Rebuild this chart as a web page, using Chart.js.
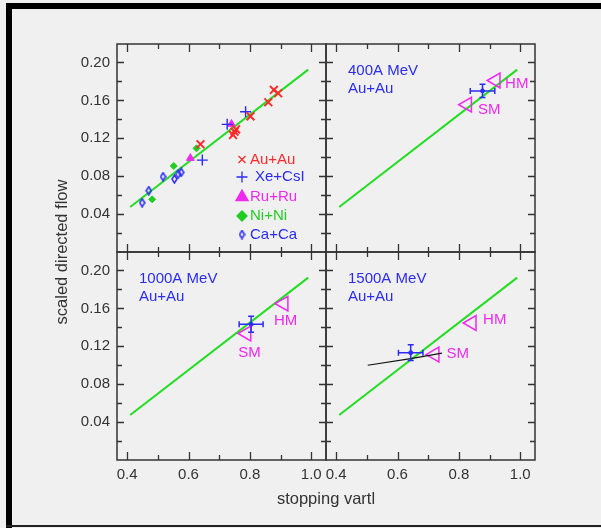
<!DOCTYPE html>
<html>
<head>
<meta charset="utf-8">
<script src="https://cdn.jsdelivr.net/npm/chart.js@4.4.0/dist/chart.umd.min.js"></script>
<style>
  html, body { margin: 0; padding: 0; background: #f0f0f0; }
  #wrap { position: relative; width: 601px; height: 528px; overflow: hidden; background: #f0f0f0; }
  #wrap canvas { position: absolute; left: 0; top: 0; }
  .bar { position: absolute; background: #000; }
</style>
</head>
<body>
<div id="wrap">
  <div class="bar" style="left:6px;top:3px;width:595px;height:6px;"></div>
  <div class="bar" style="left:6px;top:3px;width:6px;height:525px;"></div>
  <div class="bar" style="left:6px;top:525px;width:595px;height:2px;background:#222;"></div>
  <canvas id="tl" width="601" height="528"></canvas>
  <canvas id="tr" width="601" height="528"></canvas>
  <canvas id="bl" width="601" height="528"></canvas>
  <canvas id="br" width="601" height="528"></canvas>
</div>
<script>
// axis ticks
const xTicks = [0.4, 0.6, 0.8, 1.0];
const xMinor = [0.5, 0.7, 0.9];
const yTicks = [0.04, 0.08, 0.12, 0.16, 0.20];
const yMinor = [0.02, 0.06, 0.10, 0.14, 0.18];

// green line (same in every panel)
const fitX = [0.41, 0.99];
const fitY = [0.0475, 0.1925];

// top-left panel systems
const auX = [0.639, 0.745, 0.750, 0.755, 0.802, 0.860, 0.878, 0.892];
const auY = [0.1137, 0.1235, 0.127, 0.1295, 0.1432, 0.158, 0.171, 0.1675];
const xeX = [0.645, 0.726, 0.786];
const xeY = [0.097, 0.1347, 0.148];
const ruX = [0.740, 0.606];
const ruY = [0.135, 0.099];
const niX = [0.626, 0.552, 0.4815];
const niY = [0.1094, 0.0908, 0.0556];
const caX = [0.449, 0.4705, 0.517, 0.554, 0.566, 0.576];
const caY = [0.052, 0.0647, 0.0795, 0.077, 0.082, 0.084];
const legendNames = ['Au+Au', 'Xe+CsI', 'Ru+Ru', 'Ni+Ni', 'Ca+Ca'];

// Au+Au at 400, 1000, 1500A MeV: data with errors, HM and SM
const energies = ['400A MeV', '1000A MeV', '1500A MeV'];
const expX = [0.877, 0.804, 0.643];
const expY = [0.170, 0.1432, 0.1133];
const expDX = [0.040, 0.039, 0.040];
const expDY = [0.007, 0.0085, 0.0083];
const hmX = [0.920, 0.910, 0.842];
const hmY = [0.181, 0.165, 0.1446];
const smX = [0.827, 0.789, 0.721];
const smY = [0.1555, 0.1335, 0.1113];

// black curve in 1500A MeV panel
const curveX = [0.503, 0.643, 0.745];
const curveY = [0.100, 0.107, 0.1127];

const X_MIN = 0.367, X_MAX = 1.048;
const Y_MIN = 0, Y_MAX = 0.2195;

const RED = '#ff2a2a', BLUE = '#2b2bf5', MAG = '#f028f0', GREEN = '#22cc22', LINE_GREEN = '#22dd22';
const FONT = '"Liberation Sans", Arial, sans-serif';
const TXT = '#333';

const pts = (xs, ys) => xs.map((x, i) => ({ x: x, y: ys[i] }));

// narrow open diamond used for Ca+Ca
function narrowDiamond(w, h) {
    const c = document.createElement('canvas');
    c.width = w; c.height = h;
    const g = c.getContext('2d');
    g.strokeStyle = BLUE;
    g.lineWidth = 1.5;
    g.beginPath();
    g.moveTo(w / 2, 1); g.lineTo(w - 1, h / 2); g.lineTo(w / 2, h - 1); g.lineTo(1, h / 2);
    g.closePath();
    g.stroke();
    return c;
}
const caMark = narrowDiamond(7, 10);

function fitLine() {
    return {
        type: 'line', data: pts(fitX, fitY), borderColor: LINE_GREEN,
        borderWidth: 2, pointRadius: 0, order: 5
    };
}

function triangle(x, y) {
    return {
        data: [{ x: x, y: y }], pointStyle: 'triangle', rotation: -90, pointRadius: 8.5,
        borderColor: MAG, borderWidth: 1.5, backgroundColor: 'rgba(0,0,0,0)'
    };
}

function expPoint(i) {
    return {
        data: [{ x: expX[i], y: expY[i] }], pointRadius: 2,
        backgroundColor: BLUE, borderColor: BLUE
    };
}

// frame, inward ticks, error bars, text
const decoPlugin = {
    id: 'deco',
    afterDatasetsDraw(chart, args, opts) {
        const ctx = chart.ctx;
        const a = chart.chartArea;
        const xs = chart.scales.x, ys = chart.scales.y;
        ctx.save();
        ctx.strokeStyle = TXT;
        ctx.lineWidth = 1.5;
        ctx.strokeRect(a.left, a.top, a.right - a.left, a.bottom - a.top);
        ctx.lineWidth = 1.3;
        ctx.beginPath();
        xTicks.concat(xMinor).forEach(v => {
            const px = Math.round(xs.getPixelForValue(v)) + 0.5;
            const len = xTicks.includes(v) ? 8 : 5;
            ctx.moveTo(px, a.bottom); ctx.lineTo(px, a.bottom - len);
            ctx.moveTo(px, a.top); ctx.lineTo(px, a.top + len);
        });
        yTicks.concat(yMinor).forEach(v => {
            const py = Math.round(ys.getPixelForValue(v)) + 0.5;
            const len = yTicks.includes(v) ? 7 : 5;
            ctx.moveTo(a.left, py); ctx.lineTo(a.left + len, py);
            ctx.moveTo(a.right, py); ctx.lineTo(a.right - len, py);
        });
        ctx.stroke();

        // error bars
        if (opts.err !== undefined) {
            const i = opts.err;
            const cx = xs.getPixelForValue(expX[i]), cy = ys.getPixelForValue(expY[i]);
            const x1 = xs.getPixelForValue(expX[i] - expDX[i]), x2 = xs.getPixelForValue(expX[i] + expDX[i]);
            const y1 = ys.getPixelForValue(expY[i] + expDY[i]), y2 = ys.getPixelForValue(expY[i] - expDY[i]);
            ctx.strokeStyle = BLUE;
            ctx.lineWidth = 1.5;
            ctx.beginPath();
            ctx.moveTo(x1, cy); ctx.lineTo(x2, cy);
            ctx.moveTo(x1, cy - 3); ctx.lineTo(x1, cy + 3);
            ctx.moveTo(x2, cy - 3); ctx.lineTo(x2, cy + 3);
            ctx.moveTo(cx, y1); ctx.lineTo(cx, y2);
            ctx.moveTo(cx - 3, y1); ctx.lineTo(cx + 3, y1);
            ctx.moveTo(cx - 3, y2); ctx.lineTo(cx + 3, y2);
            ctx.stroke();

            // HM / SM labels
            ctx.fillStyle = MAG;
            ctx.font = '15px ' + FONT;
            ctx.textAlign = 'center';
            ctx.textBaseline = 'middle';
            ctx.fillText('HM', xs.getPixelForValue(hmX[i]) + opts.hm[0], ys.getPixelForValue(hmY[i]) + opts.hm[1]);
            ctx.fillText('SM', xs.getPixelForValue(smX[i]) + opts.sm[0], ys.getPixelForValue(smY[i]) + opts.sm[1]);

            ctx.fillStyle = BLUE;
            ctx.textAlign = 'left';
            ctx.fillText(energies[i], a.left + 22, a.top + 27);
            ctx.fillText('Au+Au', a.left + 22, a.top + 45);
        }

        // legend of the first panel
        if (opts.legend) {
            const colors = [RED, BLUE, MAG, GREEN, BLUE];
            const styles = [
                { pointStyle: 'crossRot', radius: 5, borderWidth: 1.3 },
                { pointStyle: 'cross', radius: 5.5, borderWidth: 1.5 },
                { pointStyle: 'triangle', radius: 7, borderWidth: 1 },
                { pointStyle: 'rectRot', radius: 5, borderWidth: 1 },
                { pointStyle: caMark, radius: 5, borderWidth: 1.5 }
            ];
            const rows = [115.5, 133, 153, 172, 190.5];
            ctx.font = '15px ' + FONT;
            ctx.textAlign = 'left';
            ctx.textBaseline = 'middle';
            legendNames.forEach((name, k) => {
                const y = a.top + rows[k];
                ctx.strokeStyle = colors[k];
                ctx.fillStyle = colors[k];
                Chart.helpers.drawPoint(ctx, Object.assign({ rotation: 0 }, styles[k]), a.left + 125, y);
                ctx.fillText(name, a.left + (k === 1 ? 138 : 133), y);
            });
        }

        // axis titles
        if (opts.titles) {
            ctx.fillStyle = TXT;
            ctx.font = '16.5px ' + FONT;
            ctx.textAlign = 'center';
            ctx.textBaseline = 'middle';
            ctx.fillText('stopping vartl', 326, 499);
            ctx.translate(62, 252);
            ctx.rotate(-Math.PI / 2);
            ctx.fillText('scaled directed flow', 0, 0);
        }
        ctx.restore();
    }
};

function makePanel(id, pad, showX, showY, datasets, deco) {
    return new Chart(document.getElementById(id), {
        type: 'scatter',
        data: { datasets: datasets },
        options: {
            responsive: false,
            animation: false,
            layout: { padding: pad },
            plugins: { legend: { display: false }, tooltip: { enabled: false }, deco: deco },
            scales: {
                x: {
                    type: 'linear', min: X_MIN, max: X_MAX, display: showX,
                    afterBuildTicks: s => { s.ticks = xTicks.map(v => ({ value: v })); },
                    afterFit: s => { s.height = showX ? 30 : 0; },
                    grid: { display: false, drawTicks: false },
                    border: { display: false },
                    ticks: {
                        padding: 6, color: TXT, autoSkip: false, maxRotation: 0,
                        font: { family: FONT, size: 15 },
                        callback: v => v.toFixed(1)
                    }
                },
                y: {
                    type: 'linear', min: Y_MIN, max: Y_MAX, display: showY,
                    afterBuildTicks: s => { s.ticks = yTicks.map(v => ({ value: v })); },
                    afterFit: s => { s.width = showY ? 40 : 0; },
                    grid: { display: false, drawTicks: false },
                    border: { display: false },
                    ticks: {
                        padding: 7, color: TXT,
                        font: { family: FONT, size: 15 },
                        callback: v => v.toFixed(2)
                    }
                }
            }
        },
        plugins: [decoPlugin]
    });
}

// top left: all systems
makePanel('tl', { left: 77, top: 44, right: 275, bottom: 276 }, false, true, [
    fitLine(),
    { data: pts(auX, auY), pointStyle: 'crossRot', pointRadius: 5.5, borderColor: RED, borderWidth: 2 },
    { data: pts(xeX, xeY), pointStyle: 'cross', pointRadius: 5.5, borderColor: BLUE, borderWidth: 1.4 },
    { data: pts(ruX, ruY), pointStyle: 'triangle', pointRadius: 4.5, borderColor: MAG, backgroundColor: MAG, borderWidth: 1 },
    { data: pts(niX, niY), pointStyle: 'rectRot', pointRadius: 3.5, borderColor: GREEN, backgroundColor: GREEN, borderWidth: 1 },
    { data: pts(caX, caY), pointStyle: caMark, pointRadius: 5 }
], { legend: true });

// top right: 400A MeV
makePanel('tr', { left: 326, top: 44, right: 66, bottom: 276 }, false, false, [
    fitLine(), triangle(hmX[0], hmY[0]), triangle(smX[0], smY[0]), expPoint(0)
], { err: 0, hm: [21, 3], sm: [22, 5] });

// bottom left: 1000A MeV
makePanel('bl', { left: 77, top: 252, right: 275, bottom: 38 }, true, true, [
    fitLine(), triangle(hmX[1], hmY[1]), triangle(smX[1], smY[1]), expPoint(1)
], { err: 1, hm: [2, 17], sm: [3, 19], titles: true });

// bottom right: 1500A MeV
makePanel('br', { left: 326, top: 252, right: 66, bottom: 38 }, true, false, [
    fitLine(),
    { type: 'line', data: pts(curveX, curveY), borderColor: '#111', borderWidth: 1.2, pointRadius: 0 },
    triangle(hmX[2], hmY[2]), triangle(smX[2], smY[2]), expPoint(2)
], { err: 2, hm: [23, -3], sm: [23, -1] });
</script>
</body>
</html>
